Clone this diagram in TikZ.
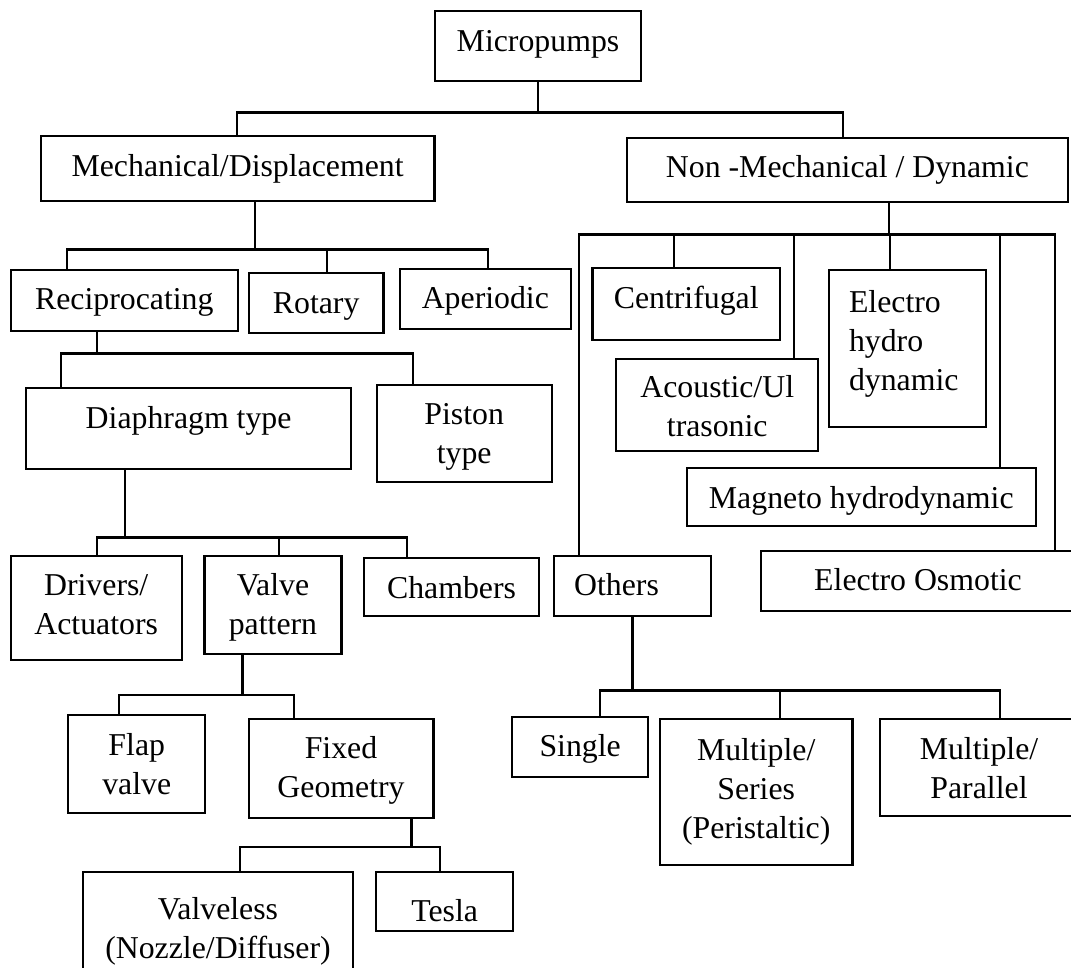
\documentclass[tikz,border=0pt]{standalone}
\usepackage{fontspec}
\setmainfont{Liberation Serif}
\newcommand\bx[3][0pt]{\raisebox{#2}[\height][\depth]{\begin{tabular}{@{}c@{}}#3\end{tabular}}\hspace*{#1}}
\newcommand\bxl[3][0pt]{\raisebox{#2}[\height][\depth]{\begin{tabular}{@{}l@{}}#3\end{tabular}}\hspace*{#1}}
\begin{document}
\begin{tikzpicture}[x=1pt,y=-1pt,
  box/.style={draw, line width=2.2pt, inner sep=0pt, font=\fontsize{31.8pt}{39pt}\selectfont},
  link/.style={line width=2.2pt}]
\useasboundingbox (0,0) rectangle (1071,967);
\clip (0,0) rectangle (1071,967);
% nodes
\node[box, minimum width=206pt, minimum height=69.7pt] (micro) at (538,45.85) {\bx{2pt}{Micropumps}};
\node[box, minimum width=393.8pt, minimum height=64.7pt] (mech) at (237.6,168.35) {\bx{0pt}{Mechanical/Displacement}};
\node[box, minimum width=441pt, minimum height=63.7pt] (nonmech) at (847.4,170.15) {\bx{0pt}{Non -Mechanical / Dynamic}};
\node[box, minimum width=227.2pt, minimum height=60.7pt] (recip) at (124.3,300.35) {\bx{-1.8pt}{Reciprocating}};
\node[box, minimum width=134.4pt, minimum height=60pt] (rotary) at (316.2,302.7) {\bx{-2.8pt}{Rotary}};
\node[box, minimum width=170.7pt, minimum height=59.7pt] (aper) at (485.35,299.15) {\bx{-1.3pt}{Aperiodic}};
\node[box, minimum width=324.8pt, minimum height=80.7pt] (diaph) at (188.6,428.65) {\bx{8pt}{Diaphragm type}};
\node[box, minimum width=175pt, minimum height=97.3pt] (piston) at (464.2,433.65) {\bx{-2.2pt}{Piston\\type}};
\node[box, minimum width=187.6pt, minimum height=71.7pt] (centri) at (686.2,304.15) {\bx{3.7pt}{Centrifugal}};
\node[box, minimum width=202.1pt, minimum height=91.7pt] (acoustic) at (717.25,404.85) {\bx{-4.8pt}{Acoustic/Ul\\trasonic}};
\node[box, minimum width=157.6pt, minimum height=156.7pt] (ehd) at (907.4,348.35) {\bxl[7.3pt]{5pt}{Electro\\hydro\\dynamic}};
\node[box, minimum width=348.8pt, minimum height=57.7pt] (magneto) at (861.3,497.15) {\bx{-3.3pt}{Magneto hydrodynamic}};
\node[box, minimum width=314pt, minimum height=59.7pt] (eo) at (918,580.85) {\bx{-2.3pt}{Electro Osmotic}};
\node[box, minimum width=156.9pt, minimum height=60pt] (others) at (632.55,586) {\bx[32pt]{-1.2pt}{Others}};
\node[box, minimum width=171pt, minimum height=104pt] (drivers) at (96.2,608) {\bx{1.3pt}{Drivers/\\Actuators}};
\node[box, minimum width=136.9pt, minimum height=98pt] (valve) at (272.95,605) {\bx{-1.7pt}{Valve\\pattern}};
\node[box, minimum width=175.5pt, minimum height=57.7pt] (chambers) at (451.55,587.15) {\bx{-3.3pt}{Chambers}};
\node[box, minimum width=136.9pt, minimum height=98.3pt] (flap) at (136.75,764.15) {\bx{-3.5pt}{Flap\\valve}};
\node[box, minimum width=184.8pt, minimum height=98.7pt] (fixed) at (341,768.35) {\bx{-2.1pt}{Fixed\\Geometry}};
\node[box, minimum width=270.6pt, minimum height=117.7pt] (valveless) at (218,931.15) {\bx{-0.5pt}{Valveless\\(Nozzle/Diffuser)}};
\node[box, minimum width=137.3pt, minimum height=58.4pt] (tesla) at (444.65,901.5) {\bx{-12.4pt}{Tesla}};
\node[box, minimum width=136.3pt, minimum height=59.4pt] (single) at (580.15,747) {\bx{-1.9pt}{Single}};
\node[box, minimum width=192.4pt, minimum height=146pt] (series) at (756.2,792) {\bx{0.5pt}{Multiple/\\Series\\(Peristaltic)}};
\node[box, minimum width=198pt, minimum height=97pt] (parallel) at (979,767.5) {\bx{-4pt}{Multiple/\\Parallel}};
% Micropumps
\coordinate (jM) at ([yshift=-30.6pt]micro.south);
\draw[link] (micro.south) -- (jM);
\draw[link] ([xshift=-0.4pt]mech.north) |- (jM) -| ([xshift=-4.6pt]nonmech.north);
% Mechanical
\coordinate (jA) at ([xshift=17.6pt,yshift=-47.6pt]mech.south);
\draw[link] ([xshift=17.6pt]mech.south) -- (jA);
\draw[link] ([xshift=-57.7pt]recip.north) |- (jA) -| ([xshift=2.55pt]aper.north);
\draw[link] ([xshift=10.7pt]rotary.north) |- (jA);
% Reciprocating
\coordinate (jR) at ([xshift=-27.7pt,yshift=-21.6pt]recip.south);
\draw[link] ([xshift=-27.7pt]recip.south) -- (jR);
\draw[link] ([xshift=-127.9pt]diaph.north) |- (jR) -| ([xshift=-51.1pt]piston.north);
% Non-Mechanical
\coordinate (jN) at ([xshift=41.2pt,yshift=-31.3pt]nonmech.south);
\draw[link] ([xshift=41.2pt]nonmech.south) -- (jN);
\draw[link] ([xshift=-53.25pt]others.north) |- (jN) -| ([xshift=136.8pt]eo.north);
\draw[link] ([xshift=-12.4pt]centri.north) |- (jN);
\draw[link] ([xshift=76.85pt]acoustic.north) |- (jN);
\draw[link] ([xshift=-17.1pt]ehd.north) |- (jN);
\draw[link] ([xshift=138.4pt]magneto.north) |- (jN);
% Diaphragm
\coordinate (jD) at ([xshift=-63.8pt,yshift=-67.3pt]diaph.south);
\draw[link] ([xshift=-63.8pt]diaph.south) -- (jD);
\draw[link] ([xshift=0.4pt]drivers.north) |- (jD) -| ([xshift=-44.65pt]chambers.north);
\draw[link] ([xshift=5.65pt]valve.north) |- (jD);
% Valve pattern
\coordinate (jV) at ([xshift=-30.55pt,yshift=-40pt]valve.south);
\draw[link] ([xshift=-30.55pt]valve.south) -- (jV);
\draw[link] ([xshift=-17.45pt]flap.north) |- (jV) -| ([xshift=-47.2pt]fixed.north);
% Fixed geometry
\coordinate (jF) at ([xshift=70.4pt,yshift=-28pt]fixed.south);
\draw[link] ([xshift=70.4pt]fixed.south) -- (jF);
\draw[link] ([xshift=21.7pt]valveless.north) |- (jF) -| ([xshift=-4.95pt]tesla.north);
% Others
\coordinate (jO) at ([yshift=-73.3pt]others.south);
\draw[link] (others.south) -- (jO);
\draw[link] ([xshift=19.85pt]single.north) |- (jO) -| ([xshift=20.7pt]parallel.north);
\draw[link] ([xshift=23.5pt]series.north) |- (jO);
\end{tikzpicture}
\end{document}
